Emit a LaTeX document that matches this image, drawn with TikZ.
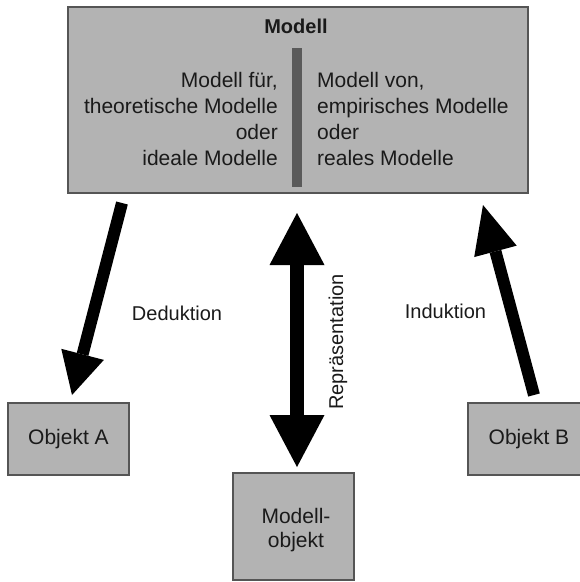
\documentclass[tikz,border=0pt]{standalone}
\usepackage{fontspec}
\setmainfont{Liberation Sans}
\usetikzlibrary{arrows.meta}
\definecolor{boxfill}{HTML}{B3B3B3}
\definecolor{boxline}{HTML}{555555}
\definecolor{barfill}{HTML}{5A5A5A}
\definecolor{ink}{HTML}{1A1A1A}
\begin{document}
\begin{tikzpicture}[x=1pt,y=-1pt,
  box/.style={draw=boxline, line width=1.5pt, fill=boxfill, inner sep=0pt},
  txt/.style={text=ink, inner sep=0pt, font=\fontsize{21}{26}\selectfont},
  lbl/.style={text=ink, inner sep=0pt, font=\fontsize{20}{24}\selectfont},
  slimhead/.tip={Triangle[length=42pt, width=44pt, line width=0pt]},
  longhead/.tip={Triangle[length=48pt, width=44pt, line width=0pt]},
  widehead/.tip={Triangle[length=52pt, width=55pt, line width=0pt]},
  bigarrow/.style={line width=12pt, draw=black},
]
\clip (0,0) rectangle (580,582);

% main model box with its divider
\node[box, minimum width=460pt, minimum height=186pt] (modell) at (298,100) {};
\node[fill=barfill, inner sep=0pt, minimum width=10pt, minimum height=139pt] (divider) at (297,117.5) {};
\node[txt, font=\fontsize{20}{24}\selectfont\bfseries, anchor=base] (title) at (296,33) {Modell};
\node[txt, align=right, anchor=north east] (left) at (278,72)
  {Modell für,\\theoretische Modelle\\oder\\ideale Modelle};
\node[txt, align=left, anchor=north west] (right) at (317,72)
  {Modell von,\\empirisches Modelle\\oder\\reales Modelle};

% object boxes
\node[box, minimum width=121pt, minimum height=72pt] (objA) at (68.5,439) {};
\node[txt] (objAtext) at (objA) {Objekt A};
\node[box, minimum width=122pt, minimum height=72pt] (objB) at (529,439) {};
\node[txt] (objBtext) at (objB) {Objekt B};
\node[box, minimum width=121pt, minimum height=107pt] (mobj) at (293.5,526.5) {};
\node[txt, align=center, font=\fontsize{21}{24}\selectfont] (mobjtext) at (296,530) {Modell-\\objekt};

% arrow end points
\coordinate (dedTail) at (122,203);
\coordinate (dedTip) at (72,395);
\coordinate (repTop) at (297,213);
\coordinate (repBot) at (297,467);
\coordinate (indTail) at (534,395);
\coordinate (indTip) at (483,205);

\draw[bigarrow, -slimhead] (dedTail) -- (dedTip);
\draw[bigarrow, line width=14pt, widehead-widehead] (repTop) -- (repBot);
\draw[bigarrow, -longhead] (indTail) -- (indTip);

% arrow labels
\node[lbl, anchor=base] (ded) at (177,320) {Deduktion};
\node[lbl, anchor=base] (ind) at (445.5,318) {Induktion};
\node[lbl, rotate=90] (rep) at (338,342) {Repräsentation};
\end{tikzpicture}
\end{document}
